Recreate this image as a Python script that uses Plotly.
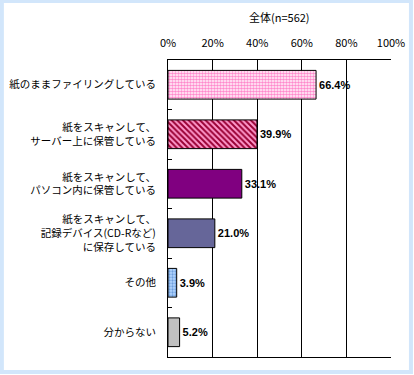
import plotly.graph_objects as go

categories = [
    "紙のままファイリングしている",
    "紙をスキャンして、<br>サーバー上に保管している",
    "紙をスキャンして、<br>パソコン内に保管している",
    "紙をスキャンして、<br>記録デバイス(CD-Rなど)<br>に保存している",
    "その他",
    "分からない",
]
values = [66.4, 39.9, 33.1, 21.0, 3.9, 5.2]
value_labels = ["66.4%", "39.9%", "33.1%", "21.0%", "3.9%", "5.2%"]
tick_vals = [0, 20, 40, 60, 80, 100]
tick_text = ["0%", "20%", "40%", "60%", "80%", "100%"]
title_text = "全体(n=562)"

bg_colors = ["#ffffff", "#ff99cc", "#800080", "#666699", "#b3d6ff", "#c0c0c0"]
pat_shapes = [".", "\\", "", "", ".", ""]
pat_fg = ["#ff88cc", "#990033", "#800080", "#666699", "#6f9fdd", "#c0c0c0"]
pat_size = [3, 4, 4, 4, 3, 4]
pat_sol = [0.6, 0.5, 0.3, 0.3, 0.45, 0.3]

W, H = 414, 375
L, R, T, B = 168, 391.5, 60, 357

fig = go.Figure()
for i in range(len(categories)):
    fig.add_trace(go.Bar(
        y=[categories[i]],
        x=[values[i]],
        orientation="h",
        text=[value_labels[i]],
        textposition="outside",
        cliponaxis=False,
        width=0.58,
        textfont=dict(family="Liberation Sans, Arial", size=11, color="#000000", weight="bold"),
        marker=dict(
            color=bg_colors[i],
            line=dict(color="#000000", width=1),
            pattern=dict(shape=pat_shapes[i], fgcolor=pat_fg[i], bgcolor=bg_colors[i],
                         size=pat_size[i], solidity=pat_sol[i], fillmode="replace"),
        ),
        hoverinfo="skip",
    ))

def px2x(px):
    return (px - L) / (R - L)

def py2y(py):
    return (B - py) / (B - T)

fig.add_shape(type="rect", xref="paper", yref="paper",
              x0=px2x(1.5), x1=px2x(411.5), y0=py2y(1), y1=py2y(372),
              line=dict(color="#d2e6fb", width=4), layer="above")

fig.add_annotation(text=title_text, xref="paper", yref="paper",
                   x=px2x(280), y=py2y(17), xanchor="center", yanchor="middle",
                   showarrow=False,
                   font=dict(family="Noto Sans CJK JP", size=11, color="#000000"))

fig.update_layout(
    width=W, height=H,
    margin=dict(l=L, r=W - R, t=T, b=H - B, autoexpand=False),
    paper_bgcolor="#ffffff",
    plot_bgcolor="#ffffff",
    showlegend=False,
    barmode="overlay",
    font=dict(family="Noto Sans CJK JP", size=11, color="#000000"),
    xaxis=dict(
        range=[0, 100], side="top", tickvals=tick_vals, ticktext=tick_text,
        showgrid=True, gridcolor="#000000", gridwidth=1,
        showline=True, linecolor="#000000", linewidth=1, mirror=True,
        ticks="", ticklen=0, zeroline=False, fixedrange=True, automargin=False,
        tickfont=dict(family="Noto Sans CJK JP", size=11),
        ticklabelstandoff=8,
    ),
    yaxis=dict(
        autorange="reversed", type="category", categoryorder="array", categoryarray=categories,
        ticks="inside", ticklen=4, tickcolor="#000000", tickson="boundaries",
        showline=True, linecolor="#000000", linewidth=1,
        showgrid=False, fixedrange=True, automargin=False,
        tickfont=dict(family="Noto Sans CJK JP", size=10.5),
        ticklabelstandoff=9,
    ),
)

fig.write_html("out.html", config={"displayModeBar": False},
               post_script="document.body.style.margin='0px';document.body.style.padding='0px';")
